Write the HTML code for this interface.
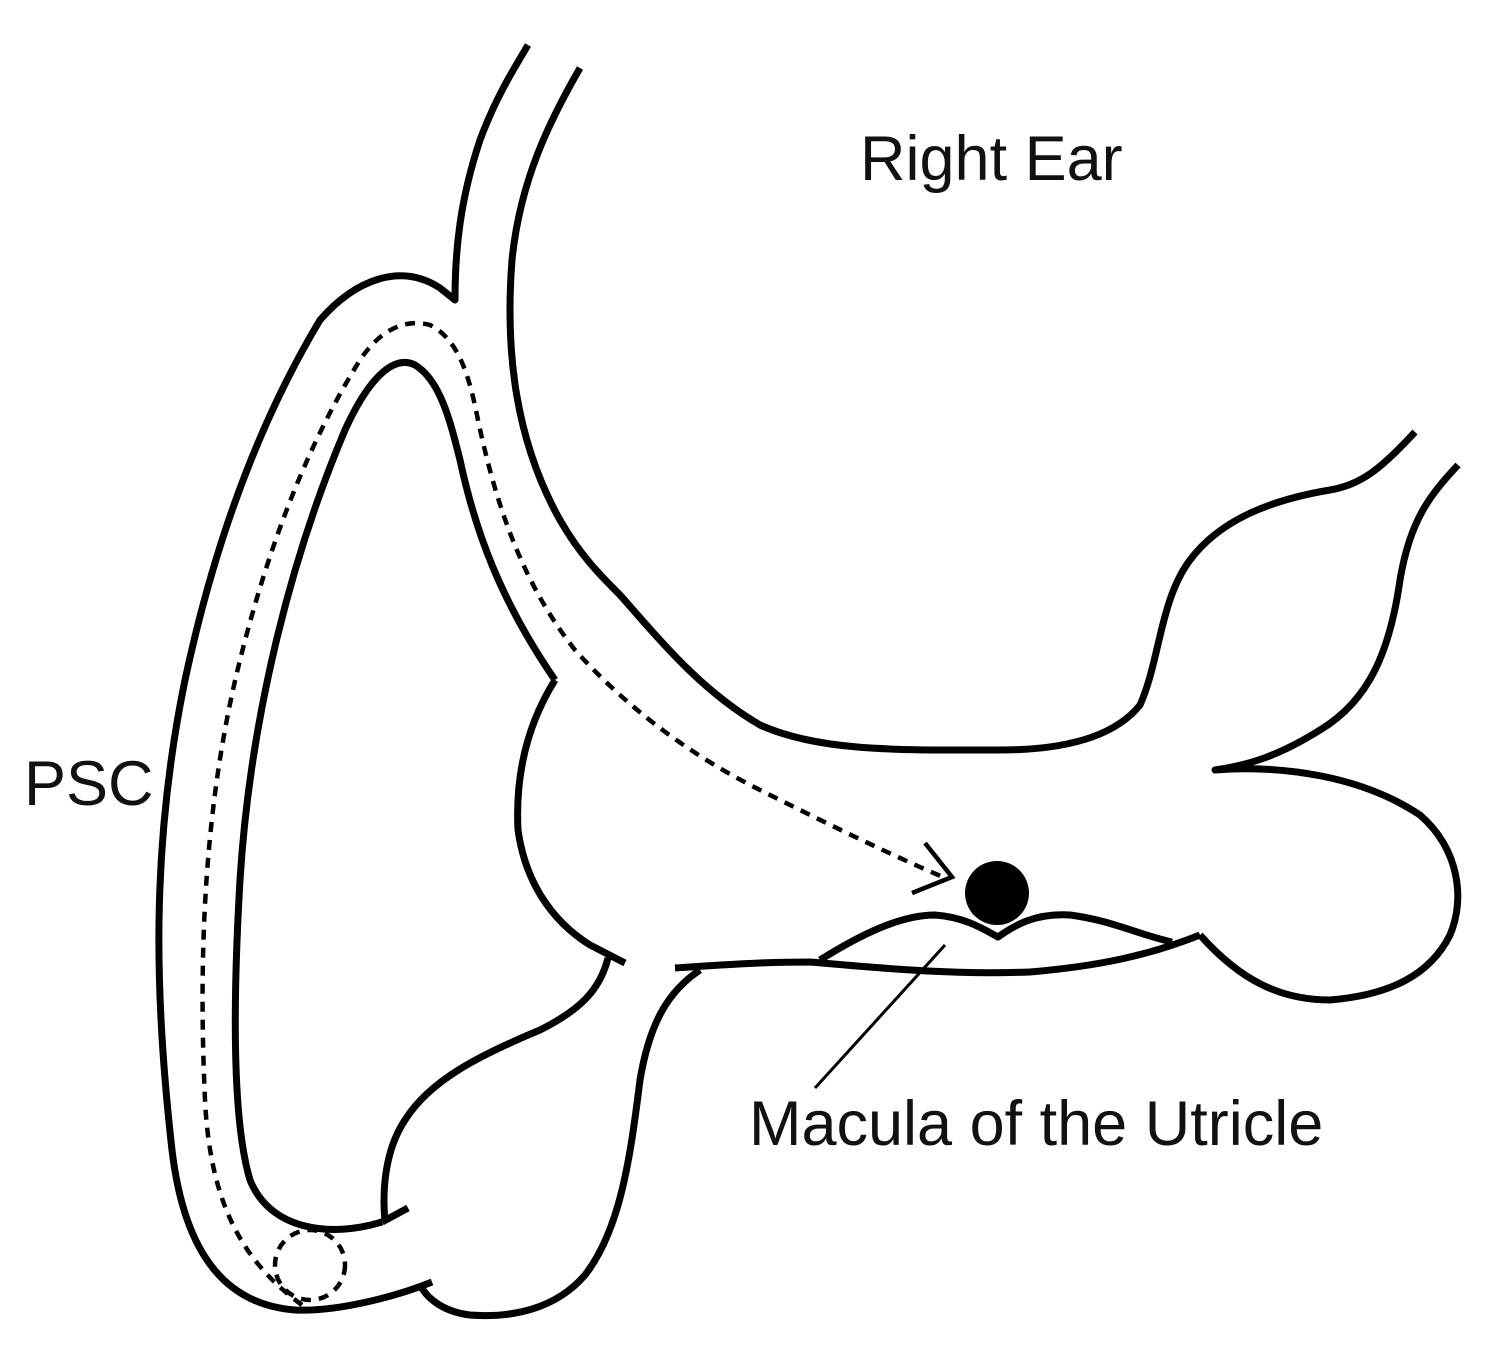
<!DOCTYPE html>
<html><head><style>
html,body{margin:0;padding:0;background:#fff;}
svg{display:block}
text{font-family:"Liberation Sans",sans-serif;fill:#111;}
</style></head><body>
<svg width="1500" height="1351" viewBox="0 0 1500 1351">
<g fill="none" stroke="#000" stroke-width="7" stroke-linecap="butt" stroke-linejoin="round">
<path d="M432,1282 C400,1295 340,1312 295,1310 C230,1305 185,1260 172,1150 C155,1000 150,850 185,680 C215,540 260,420 320,320 C355,280 400,262 440,288 L455,300 C455,250 460,200 480,140 C495,100 510,75 528,45"/>
<path d="M580,68 C550,120 520,180 512,260 C505,350 515,440 560,520 C580,555 600,575 620,595 C660,640 700,690 760,725 C820,752 900,750 1000,750 C1080,750 1120,730 1140,705 C1160,660 1160,600 1190,560 C1220,520 1270,500 1330,490 C1360,485 1380,470 1415,432"/>
<path d="M1458,465 C1430,495 1410,520 1400,580 C1390,650 1370,700 1320,730 C1280,755 1250,765 1215,770 C1280,765 1360,775 1420,815 C1460,850 1465,900 1450,935 C1430,975 1390,995 1330,1000 C1280,1000 1240,980 1200,935"/>
<path d="M382,1222 C330,1238 270,1230 250,1180 C232,1120 233,1000 240,880 C250,720 290,560 345,430 C370,375 395,355 415,365 C440,380 450,420 460,460 C475,530 500,600 555,680"/>
<path d="M555,680 C530,720 515,770 518,830 C525,880 550,920 590,945 C600,950 615,958 625,963"/>
<path d="M608,958 C600,990 580,1010 540,1030 C480,1055 430,1080 405,1120 C385,1150 382,1190 385,1222"/>
<path d="M382,1222 L408,1208"/>
<path d="M700,970 C670,990 650,1020 640,1080 C630,1160 620,1230 585,1275 C555,1310 510,1318 470,1315 C445,1312 428,1300 420,1285"/>
<path d="M675,968 C720,965 760,962 810,962 C880,968 950,975 1030,972 C1100,966 1150,955 1200,935"/>
<path d="M820,960 C860,935 900,915 935,915 C965,917 985,930 998,937 C1015,925 1035,913 1070,915 C1110,920 1140,935 1172,942"/>
</g>
<g fill="none" stroke="#000" stroke-width="4.5" stroke-dasharray="10,8">
<path d="M302,1305 C240,1260 210,1200 205,1100 C198,950 205,800 240,660 C270,540 310,440 360,360 C380,330 405,318 430,325 C460,340 470,380 478,420 C495,500 520,580 575,650 C620,700 680,750 760,790 C820,820 880,850 945,878"/>
<circle cx="310" cy="1265" r="35"/>
</g>
<g fill="none" stroke="#000" stroke-width="4.5">
<path d="M925,843 L952,877 L912,893"/>
<path d="M945,945 L815,1088" stroke-width="3"/>
</g>
<circle cx="997" cy="893" r="32" fill="#000"/>
<text x="860" y="180" font-size="63">Right Ear</text>
<text x="24" y="805" font-size="63">PSC</text>
<text x="749" y="1145" font-size="63">Macula of the Utricle</text>
</svg>
</body></html>
